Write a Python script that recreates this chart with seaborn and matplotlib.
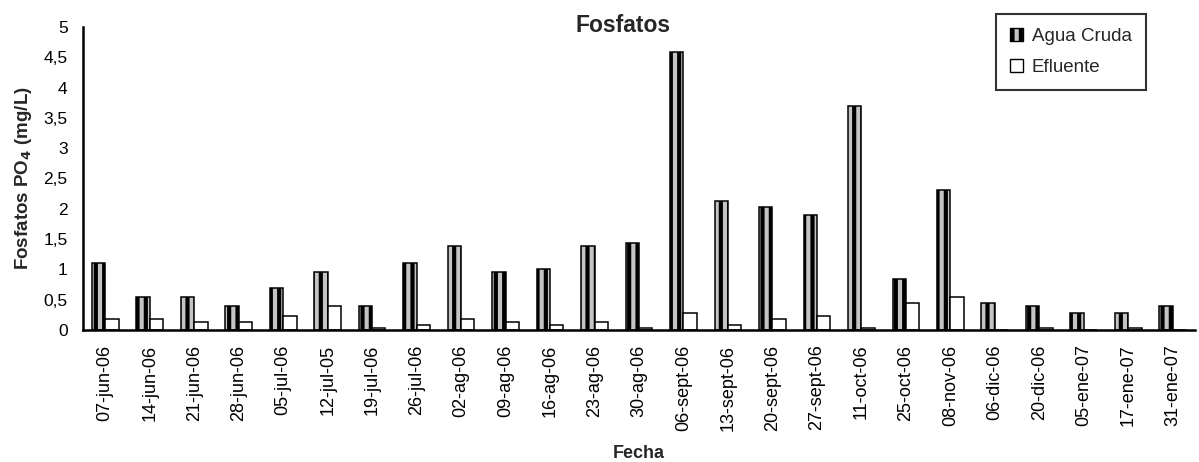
import matplotlib
matplotlib.use("Agg")
import matplotlib.pyplot as plt
import seaborn as sns
import pandas as pd
import numpy as np
from matplotlib.patches import Patch

fechas = ["07-jun-06", "14-jun-06", "21-jun-06", "28-jun-06", "05-jul-06", "12-jul-05",
          "19-jul-06", "26-jul-06", "02-ag-06", "09-ag-06", "16-ag-06", "23-ag-06",
          "30-ag-06", "06-sept-06", "13-sept-06", "20-sept-06", "27-sept-06", "11-oct-06",
          "25-oct-06", "08-nov-06", "06-dic-06", "20-dic-06", "05-ene-07", "17-ene-07",
          "31-ene-07"]
agua_cruda = [1.10, 0.55, 0.55, 0.40, 0.69, 0.95, 0.40, 1.10, 1.39, 0.95, 1.00, 1.39,
              1.43, 4.59, 2.13, 2.03, 1.89, 3.70, 0.84, 2.31, 0.45, 0.40, 0.28, 0.28, 0.40]
efluente = [0.18, 0.18, 0.13, 0.13, 0.23, 0.40, 0.04, 0.08, 0.18, 0.13, 0.08, 0.13,
            0.04, 0.28, 0.08, 0.18, 0.23, 0.04, 0.45, 0.55, 0.0, 0.03, 0.0, 0.03, 0.0]
series = ["Agua Cruda", "Efluente"]
yticks = [0, 0.5, 1, 1.5, 2, 2.5, 3, 3.5, 4, 4.5, 5]
ytick_labels = ["0", "0,5", "1", "1,5", "2", "2,5", "3", "3,5", "4", "4,5", "5"]

df = pd.DataFrame({
    "Fecha": fechas * 2,
    "Valor": agua_cruda + efluente,
    "Serie": [series[0]] * len(fechas) + [series[1]] * len(fechas),
})

sns.set_style("white")
plt.rcParams["font.family"] = ["Liberation Sans", "DejaVu Sans"]
plt.rcParams["hatch.linewidth"] = 3.0

fig = plt.figure(figsize=(11.99, 4.62), dpi=100)
ax = fig.add_axes([83 / 1199, 1 - 330 / 462, (1195 - 83) / 1199, (330 - 27) / 462])

fills = ["#c4c4c4", "white"]
hatches = ["||", None]
sns.barplot(data=df, x="Fecha", y="Valor", hue="Serie", order=fechas, hue_order=series,
            palette=fills, width=0.6, edgecolor="black", linewidth=1.1,
            ax=ax, legend=False, errorbar=None)

for cont, h, fc in zip(ax.containers, hatches, fills):
    for p in cont:
        p.set_hatch(h)
        p.set_edgecolor("black")
        p.set_facecolor(fc)

ax.set_ylim(0, 5)
ax.set_xlim(-0.5, len(fechas) - 0.5)
ax.set_yticks(yticks)
ax.set_yticklabels(ytick_labels, fontsize=12.5)
ax.set_xticks(range(len(fechas)))
ax.set_xticklabels(fechas, rotation=90, fontsize=13)
ax.set_xticks(np.arange(-0.5, len(fechas)), minor=True)
ax.tick_params(axis="x", which="major", length=0, pad=10.5)
ax.tick_params(axis="x", which="minor", length=6, width=1.5, direction="out", color="black")
ax.tick_params(axis="y", which="major", length=5, width=1.5, direction="out", color="black", pad=6)
ax.tick_params(colors="black")

for s in ["top", "right"]:
    ax.spines[s].set_visible(False)
for s in ["left", "bottom"]:
    ax.spines[s].set_linewidth(1.8)
    ax.spines[s].set_color("black")

ax.set_xlabel("Fecha", fontsize=13, fontweight="bold", labelpad=10)
ax.set_ylabel(r"Fosfatos PO$_\mathbf{4}$ (mg/L)", fontsize=13.5, fontweight="bold")
ax.yaxis.set_label_coords((34 - 83) / 1112, 0.5)
fig.text(623 / 1199, 1 - 25 / 462, "Fosfatos", fontsize=16.5, fontweight="bold",
         ha="center", va="center")

handles = [Patch(facecolor=fc, edgecolor="black", hatch=h, linewidth=1.0)
           for h, fc in zip(hatches, fills)]
leg = fig.legend(handles, series, loc="upper left",
                 bbox_to_anchor=(996 / 1199, 1 - 14 / 462), bbox_transform=fig.transFigure,
                 fontsize=13.5, frameon=True, fancybox=False, handlelength=0.7,
                 handleheight=0.7, handletextpad=0.45, borderpad=0.75, labelspacing=0.75,
                 borderaxespad=0)
leg.get_frame().set_edgecolor("black")
leg.get_frame().set_linewidth(1.5)

fig.savefig("out.png", dpi=100)
